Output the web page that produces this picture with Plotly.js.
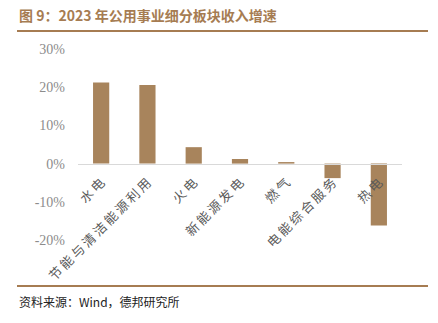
<!DOCTYPE html>
<html><head><meta charset="utf-8">
<script src="https://cdn.plot.ly/plotly-3.0.1.min.js"></script>
<style>html,body{margin:0;padding:0;background:#fff;}#c{width:438px;height:323px;}</style>
</head><body><div id="c"></div>
<script>
const categories = ['水电','节能与清洁能源利用','火电','新能源发电','燃气','电能综合服务','热电'];
const growth = [21.2, 20.6, 4.3, 1.2, 0.4, -3.8, -16.2];
const yTickVals = [-20, -10, 0, 10, 20, 30];
const yTickText = ['-20%', '-10%', '0%', '10%', '20%', '30%'];

const W = 438, H = 323;
const L = 78, R = 36, T = 49, B = 83;
const pw = W - L - R, ph = H - T - B;
const px = v => (v - L) / pw;
const py = v => (H - B - v) / ph;
const brown = '#a67c52';
const spaced = s => Array.from(s).join('\u2009');

const trace = {
  type: 'bar', x: categories, y: growth,
  marker: {color: '#a8845c', line: {width: 0}},
  hoverinfo: 'skip'
};
const layout = {
  width: W, height: H,
  margin: {l: L, r: R, t: T, b: B, pad: 0},
  paper_bgcolor: '#fff', plot_bgcolor: '#fff',
  showlegend: false, bargap: 0.65,
  xaxis: {
    anchor: 'free', position: 0.4,
    showline: true, linecolor: '#d9d9d9', linewidth: 1.5,
    ticks: '', tickangle: -45,
    tickvals: categories, ticktext: categories.map(spaced),
    tickfont: {family: 'Noto Sans CJK SC', size: 13, color: '#595959'},
    ticklabelstandoff: 5,
    showgrid: false, zeroline: false, fixedrange: true
  },
  yaxis: {
    range: [-20, 30], tickvals: yTickVals, ticktext: yTickText,
    showgrid: false, zeroline: false, showline: false, ticks: '',
    tickfont: {family: 'Liberation Serif', size: 14, color: '#8c8c8c'},
    ticklabelstandoff: 12, fixedrange: true
  },
  shapes: [
    {type: 'line', xref: 'paper', yref: 'paper', x0: px(17), x1: px(428), y0: py(31), y1: py(31), line: {color: brown, width: 2}},
    {type: 'line', xref: 'paper', yref: 'paper', x0: px(17), x1: px(428), y0: py(286), y1: py(286), line: {color: brown, width: 2}}
  ],
  annotations: [
    {xref: 'paper', yref: 'paper', x: px(17), y: py(15), xanchor: 'left', yanchor: 'middle', showarrow: false,
     text: '<b>图 9：2023 年公用事业细分板块收入增速</b>', font: {family: 'Noto Sans CJK SC', size: 14, color: brown}},
    {xref: 'paper', yref: 'paper', x: px(17), y: py(301), xanchor: 'left', yanchor: 'middle', showarrow: false,
     text: '资料来源：Wind，德邦研究所', font: {family: 'Noto Sans CJK SC', size: 12, color: '#222'}}
  ]
};
Plotly.newPlot('c', [trace], layout, {displayModeBar: false, staticPlot: true});
</script></body></html>
